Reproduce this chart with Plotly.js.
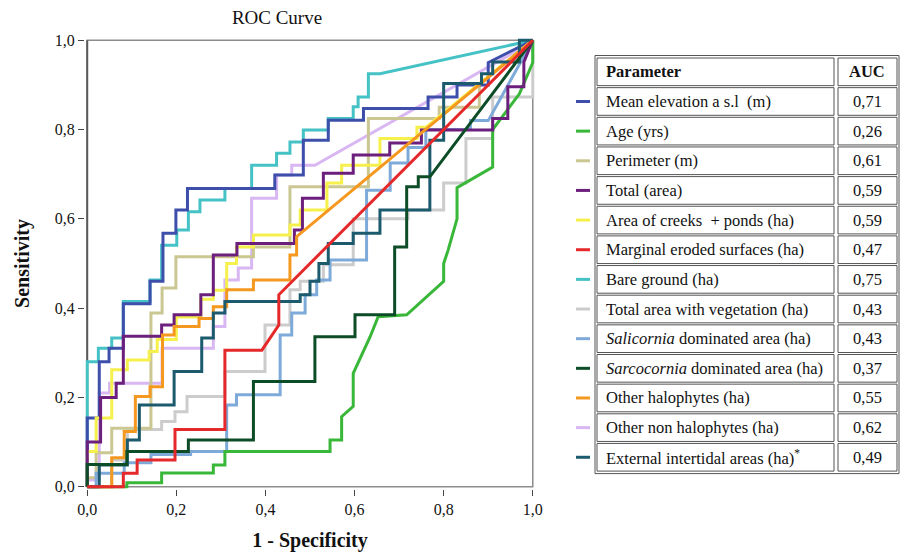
<!DOCTYPE html>
<html>
<head>
<meta charset="utf-8">
<script src="https://cdn.plot.ly/plotly-3.0.1.min.js"></script>
<style>html,body{margin:0;padding:0;background:#fff;}#chart{width:906px;height:555px;}</style>
</head>
<body>
<div id="chart"></div>
<script>
// ---------------- DATA ----------------
const params = [
  "Mean elevation a s.l\u00a0 (m)",
  "Age (yrs)",
  "Perimeter (m)",
  "Total (area)",
  "Area of creeks\u00a0 + ponds (ha)",
  "Marginal eroded surfaces (ha)",
  "Bare ground (ha)",
  "Total area with vegetation (ha)",
  "<i>Salicornia</i> dominated area (ha)",
  "<i>Sarcocornia</i> dominated area (ha)",
  "Other halophytes (ha)",
  "Other non halophytes (ha)",
  "External intertidal areas (ha)<sup>*</sup>"
];
const aucText = ["0,71","0,26","0,61","0,59","0,59","0,47","0,75","0,43","0,43","0,37","0,55","0,62","0,49"];
const tickVals = [0, 0.2, 0.4, 0.6, 0.8, 1.0];
const tickText = ["0,0","0,2","0,4","0,6","0,8","1,0"];

// ROC curves: 1 - specificity (fpr) and sensitivity (tpr)
const fprMeanElev = [0,0,0.027,0.027,0.049,0.049,0.081,0.081,0.141,0.141,0.17,0.17,0.199,0.199,0.225,0.225,0.421,0.421,0.485,0.485,0.541,0.541,0.62,0.62,0.765,0.765,0.83,0.83,0.9,0.9,1];
const tprMeanElev = [0,0.154,0.154,0.28,0.28,0.31,0.31,0.41,0.41,0.46,0.46,0.568,0.568,0.62,0.62,0.668,0.668,0.698,0.698,0.776,0.776,0.821,0.821,0.847,0.847,0.873,0.873,0.9,0.9,0.95,1];

const fprAge = [0,0.089,0.089,0.167,0.167,0.283,0.283,0.309,0.309,0.545,0.545,0.571,0.571,0.597,0.597,0.635,0.653,0.717,0.8,0.8,0.81,0.83,0.83,0.91,0.91,0.97,1,1];
const tprAge = [0,0,0.009,0.009,0.031,0.031,0.049,0.049,0.079,0.079,0.105,0.105,0.157,0.18,0.254,0.336,0.381,0.385,0.46,0.5,0.53,0.6,0.67,0.716,0.8,0.88,0.95,1];

const fprPerimeter = [0,0,0.02,0.02,0.055,0.055,0.143,0.143,0.168,0.168,0.199,0.199,0.373,0.373,0.455,0.455,0.631,0.631,0.79,0.79,0.88,0.88,1];
const tprPerimeter = [0,0.02,0.02,0.076,0.076,0.131,0.131,0.389,0.389,0.445,0.445,0.515,0.515,0.537,0.537,0.672,0.672,0.825,0.825,0.85,0.85,0.9,1];

const fprTotal = [0,0,0.03,0.03,0.065,0.065,0.081,0.081,0.167,0.167,0.195,0.195,0.255,0.255,0.283,0.283,0.336,0.336,0.465,0.465,0.483,0.483,0.53,0.53,0.597,0.597,0.679,0.679,0.75,0.75,0.91,0.91,0.944,0.944,0.98,0.98,1];
const tprTotal = [0,0.1,0.1,0.2,0.2,0.232,0.232,0.337,0.337,0.362,0.362,0.385,0.385,0.43,0.43,0.519,0.519,0.545,0.545,0.575,0.575,0.646,0.646,0.702,0.702,0.743,0.743,0.77,0.77,0.799,0.799,0.825,0.825,0.896,0.896,0.951,1];

const fprCreeks = [0,0,0.02,0.02,0.055,0.055,0.09,0.09,0.139,0.139,0.157,0.157,0.2,0.2,0.255,0.255,0.283,0.283,0.313,0.313,0.335,0.335,0.373,0.373,0.455,0.455,0.478,0.478,0.538,0.538,0.571,0.571,0.657,0.657,0.74,0.74,0.76,1];
const tprCreeks = [0,0.079,0.079,0.154,0.154,0.262,0.262,0.284,0.284,0.303,0.303,0.33,0.33,0.38,0.38,0.42,0.42,0.44,0.44,0.5,0.5,0.537,0.537,0.564,0.564,0.586,0.586,0.62,0.62,0.68,0.68,0.72,0.72,0.78,0.78,0.805,0.805,1];

const fprEroded = [0,0.081,0.081,0.112,0.112,0.197,0.197,0.309,0.309,0.392,0.43,0.43,1];
const tprEroded = [0,0,0.03,0.03,0.06,0.06,0.128,0.128,0.306,0.306,0.362,0.43,1];

const fprBare = [0,0,0.025,0.025,0.055,0.055,0.081,0.081,0.141,0.141,0.167,0.167,0.201,0.201,0.227,0.227,0.253,0.253,0.309,0.309,0.369,0.369,0.425,0.425,0.455,0.455,0.485,0.485,0.541,0.541,0.597,0.597,0.608,0.608,0.631,0.631,0.657,1];
const tprBare = [0,0.28,0.28,0.31,0.31,0.333,0.333,0.415,0.415,0.463,0.463,0.541,0.541,0.575,0.575,0.616,0.616,0.642,0.642,0.668,0.668,0.72,0.72,0.747,0.747,0.772,0.772,0.799,0.799,0.825,0.825,0.851,0.851,0.873,0.873,0.925,0.925,1];

const fprVegetation = [0,0.055,0.055,0.09,0.09,0.167,0.167,0.197,0.197,0.224,0.224,0.309,0.309,0.399,0.399,0.455,0.455,0.478,0.478,0.53,0.53,0.597,0.597,0.72,0.72,0.8,0.8,0.85,0.85,0.91,0.91,1,1];
const tprVegetation = [0,0,0.06,0.06,0.128,0.128,0.146,0.146,0.168,0.168,0.202,0.202,0.258,0.258,0.362,0.362,0.441,0.441,0.46,0.46,0.497,0.497,0.6,0.6,0.62,0.62,0.68,0.68,0.78,0.78,0.873,0.873,1];

const fprSalicornia = [0,0.02,0.02,0.083,0.083,0.143,0.143,0.232,0.232,0.313,0.313,0.335,0.335,0.433,0.433,0.459,0.459,0.489,0.489,0.515,0.515,0.545,0.545,0.627,0.627,0.68,0.68,0.72,0.72,0.76,0.76,0.86,0.86,0.9,1];
const tprSalicornia = [0,0,0.03,0.03,0.054,0.054,0.072,0.072,0.079,0.079,0.183,0.183,0.206,0.206,0.34,0.34,0.389,0.389,0.43,0.43,0.463,0.463,0.508,0.508,0.664,0.664,0.725,0.725,0.76,0.76,0.8,0.8,0.82,0.82,1];

const fprSarcocornia = [0,0,0.089,0.089,0.227,0.227,0.373,0.373,0.511,0.511,0.601,0.601,0.69,0.69,0.717,0.717,0.743,0.743,0.769,1];
const tprSarcocornia = [0,0.05,0.05,0.079,0.079,0.105,0.105,0.236,0.236,0.336,0.336,0.385,0.385,0.537,0.537,0.672,0.672,0.694,0.694,1];

const fprOtherHalo = [0,0.055,0.055,0.083,0.083,0.108,0.108,0.141,0.141,0.169,0.169,0.195,0.195,0.251,0.251,0.283,0.283,0.313,0.313,0.373,0.373,0.455,0.455,0.47,0.47,0.99,1];
const tprOtherHalo = [0,0,0.065,0.065,0.124,0.124,0.202,0.202,0.224,0.224,0.34,0.34,0.359,0.359,0.377,0.377,0.403,0.403,0.441,0.441,0.463,0.463,0.519,0.519,0.56,0.99,1];

const fprNonHalo = [0,0,0.027,0.027,0.05,0.05,0.168,0.168,0.283,0.283,0.309,0.309,0.339,0.339,0.369,0.369,0.425,0.425,0.459,0.459,0.511,0.955,1];
const tprNonHalo = [0,0.015,0.015,0.21,0.21,0.232,0.232,0.31,0.31,0.359,0.359,0.463,0.463,0.49,0.49,0.646,0.646,0.698,0.698,0.72,0.72,0.971,1];

const fprExternal = [0,0.027,0.027,0.09,0.09,0.117,0.117,0.195,0.195,0.257,0.257,0.283,0.283,0.309,0.309,0.478,0.478,0.5,0.5,0.52,0.52,0.541,0.541,0.597,0.597,0.657,0.657,0.769,0.769,0.8,0.8,0.885,0.885,0.91,0.91,0.97,0.97,1];
const tprExternal = [0,0,0.049,0.049,0.105,0.105,0.183,0.183,0.258,0.258,0.333,0.333,0.389,0.389,0.415,0.415,0.43,0.43,0.46,0.46,0.5,0.5,0.545,0.545,0.568,0.568,0.62,0.62,0.776,0.776,0.903,0.903,0.925,0.925,0.951,0.951,1,1];

const seriesX = [fprMeanElev, fprAge, fprPerimeter, fprTotal, fprCreeks, fprEroded, fprBare, fprVegetation, fprSalicornia, fprSarcocornia, fprOtherHalo, fprNonHalo, fprExternal];
const seriesY = [tprMeanElev, tprAge, tprPerimeter, tprTotal, tprCreeks, tprEroded, tprBare, tprVegetation, tprSalicornia, tprSarcocornia, tprOtherHalo, tprNonHalo, tprExternal];

// ---------------- STYLE ----------------
const colors = ["#3d4fab","#38b738","#cbc792","#6c1f7c","#f6f04c","#e5292b","#45c2c5","#cccccc","#7eaad9","#0c4c27","#f5981f","#d9b7f2","#1c5b6d"];
const drawOrder = [11,7,2,8,6,0,1,4,3,10,12,9,5];

const W = 906, H = 555;
const M = {l:85, r:371, t:38, b:66};
const PW = W - M.l - M.r, PH = H - M.t - M.b;
const pxX = px => (px - M.l) / PW;
const pxY = py => 1 - (py - M.t) / PH;
const serif = "Liberation Serif, Times New Roman, serif";
const tableFont = {family:serif, size:16.5, color:"#111"};

const traces = drawOrder.map(i => ({
  type: "scatter", mode: "lines",
  x: seriesX[i], y: seriesY[i],
  name: params[i],
  line: {color: colors[i], width: 3, shape: "linear"},
  hoverinfo: "skip", showlegend: false
}));

const shapes = [
  {type:"rect", xref:"x", yref:"y", x0:0, x1:1, y0:0, y1:1, layer:"below", line:{color:"#8c8c8c", width:1.5}},
  {type:"line", xref:"x", yref:"y", x0:0, x1:0, y0:0, y1:1, layer:"below", line:{color:"#5a5a5a", width:2}}
];
const annotations = [];

// table geometry
const rowTop0 = 57.5, rowH = 29.65, nRows = params.length + 1;
const tLeft = 595, tRight = 899, cSplit1 = 834, cSplit2 = 838;
shapes.push({type:"rect", xref:"paper", yref:"paper", x0:pxX(tLeft), x1:pxX(tRight), y0:pxY(rowTop0 - 2), y1:pxY(rowTop0 + nRows*rowH + 1), line:{color:"#555", width:1}});
for (let r = 0; r < nRows; r++) {
  const top = rowTop0 + r*rowH + 0.5, bot = rowTop0 + (r+1)*rowH - 1.5;
  shapes.push({type:"rect", xref:"paper", yref:"paper", x0:pxX(tLeft+2), x1:pxX(cSplit1), y0:pxY(top), y1:pxY(bot), line:{color:"#555", width:1}});
  shapes.push({type:"rect", xref:"paper", yref:"paper", x0:pxX(cSplit2), x1:pxX(tRight-2), y0:pxY(top), y1:pxY(bot), line:{color:"#555", width:1}});
  const cy = rowTop0 + r*rowH + rowH/2 - 0.5;
  if (r === 0) {
    annotations.push({xref:"paper", yref:"paper", x:pxX(604), y:pxY(cy), xanchor:"left", yanchor:"middle", text:"<b>Parameter</b>", showarrow:false, font:tableFont});
    annotations.push({xref:"paper", yref:"paper", x:pxX(867), y:pxY(cy), xanchor:"center", yanchor:"middle", text:"<b>AUC</b>", showarrow:false, font:tableFont});
  } else {
    const i = r - 1;
    annotations.push({xref:"paper", yref:"paper", x:pxX(604), y:pxY(cy), xanchor:"left", yanchor:"middle", text:params[i], showarrow:false, font:tableFont});
    annotations.push({xref:"paper", yref:"paper", x:pxX(867), y:pxY(cy), xanchor:"center", yanchor:"middle", text:aucText[i], showarrow:false, font:tableFont});
    shapes.push({type:"line", xref:"paper", yref:"paper", x0:pxX(576), x1:pxX(590), y0:pxY(cy), y1:pxY(cy), line:{color:colors[i], width:3}});
  }
}

const axisCommon = {
  range:[-0.005, 1.005], showgrid:false, zeroline:false, showline:false,
  ticks:"outside", ticklen:6, tickwidth:1.2, tickcolor:"#444",
  tickmode:"array", tickvals:tickVals, ticktext:tickText,
  tickfont:{family:serif, size:16, color:"#111"}, fixedrange:true
};

const layout = {
  width:W, height:H, margin:M, paper_bgcolor:"#fff", plot_bgcolor:"#fff",
  showlegend:false,
  title:{text:"ROC Curve", font:{family:serif, size:19, color:"#111"}, xref:"paper", x:pxX(277), xanchor:"center", yref:"container", y:1-17/H, yanchor:"middle"},
  xaxis:Object.assign({}, axisCommon, {title:{text:"<b>1 - Specificity</b>", font:{family:serif, size:20, color:"#111"}, standoff:15}}),
  yaxis:Object.assign({}, axisCommon, {title:{text:"<b>Sensitivity</b>", font:{family:serif, size:20, color:"#111"}, standoff:19}}),
  shapes:shapes, annotations:annotations
};

Plotly.newPlot("chart", traces, layout, {displayModeBar:false, staticPlot:true});
</script>
</body>
</html>
